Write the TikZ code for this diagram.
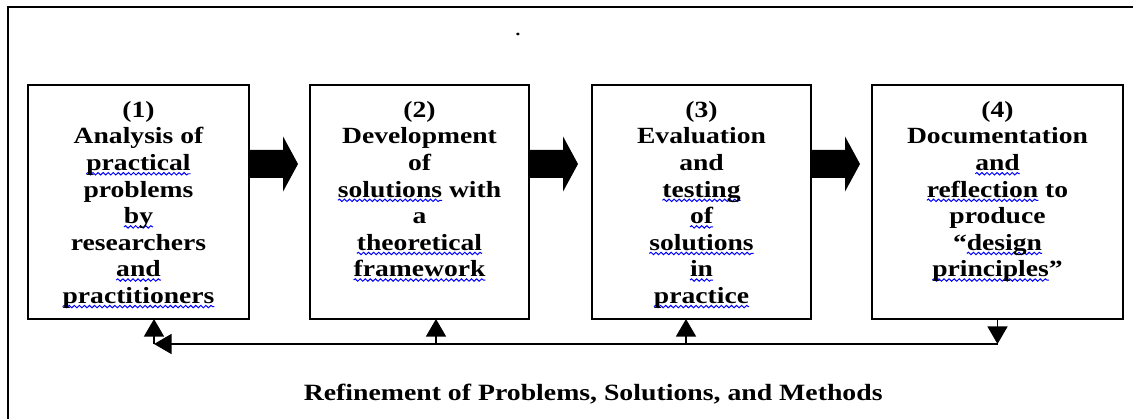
\documentclass[tikz,border=0pt]{standalone}
\usepackage{fontspec}
\setmainfont{Liberation Serif}[FakeStretch=1.19]
\usetikzlibrary{calc,arrows.meta,decorations.pathmorphing}

% spell-check wave under a word
\newlength{\spellw}
\newcommand{\spell}[1]{\settowidth{\spellw}{#1}\leavevmode\rlap{\tikz[overlay]\draw[blue, line width=0.7pt, decorate,
    decoration={snake, amplitude=0.85pt, segment length=3.6pt}] (0,-2.3pt) -- (\spellw,-2.3pt);}#1}

\newcommand{\bigarrow}[1]{%
  \fill ($(#1.east)+(0,1.30)$) -- ++(0.85,0) -- ++(0,0.34)
    -- ($(#1.east)+(1.225,0.95)$) -- ($(#1.east)+(0.85,0.26)$)
    -- ++(0,0.34) -- ($(#1.east)+(0,0.60)$) -- cycle;}

\begin{document}
\begin{tikzpicture}[
    stage/.style={draw, line width=1.2pt, inner sep=0pt, outer sep=0pt, minimum height=5.85cm},
    stagetext/.style={anchor=north, align=center, inner sep=0pt, font=\fontsize{16.5pt}{18.9pt}\selectfont\bfseries},
    fb/.style={line width=1.2pt, -{Triangle[width=0.5cm,length=0.44cm]}}
  ]
    \useasboundingbox (0,0) rectangle (28.325,10.475);

    % Frame
    \draw[line width=1.5pt] (0.19,0) -- (0.19,10.3) -- (28.325,10.3);
    \node[font=\fontsize{16.1pt}{18.9pt}\selectfont] (dot) at (12.95,9.62) {.};

    % Stages
    \node[stage, minimum width=5.525cm] (b1) at (3.4625,5.425) {};
    \node[stage, minimum width=5.475cm] (b2) at (10.4875,5.425) {};
    \node[stage, minimum width=5.475cm] (b3) at (17.5375,5.425) {};
    \node[stage, minimum width=6.275cm] (b4) at (24.9375,5.425) {};

    \node[stagetext] (t1) at ($(b1.north)+(0,-0.4)$)
      {(1)\\ Analysis of\\ \spell{practical}\\ problems\\ \spell{by}\\ researchers\\ \spell{and}\\ \spell{practitioners}};
    \node[stagetext] (t2) at ($(b2.north)+(0,-0.4)$)
      {(2)\\ Development\\ of\\ \spell{solutions} with\\ a\\ \spell{theoretical}\\ \spell{framework}};
    \node[stagetext] (t3) at ($(b3.north)+(0,-0.4)$)
      {(3)\\ Evaluation\\ and\\ \spell{testing}\\ \spell{of}\\ \spell{solutions}\\ \spell{in}\\ \spell{practice}};
    \node[stagetext] (t4) at ($(b4.north)+(0,-0.4)$)
      {(4)\\ Documentation\\ \spell{and}\\ \spell{reflection} to\\ produce\\ “\spell{design}\\ \spell{principles}”};

    % Block arrows
    \bigarrow{b1}
    \bigarrow{b2}
    \bigarrow{b3}

    % Refinement loop
    \coordinate (f1) at (3.85,1.875);
    \coordinate (f2) at (10.9,1.875);
    \coordinate (f3) at (17.15,1.875);
    \coordinate (f4) at (b4.south |- f1);
    \draw[fb] (b4.south) -- (f4);
    \draw[fb] (f4) -- (f1);
    \draw[fb] (f1) -- (f1 |- b1.south);
    \draw[fb] (f2) -- (f2 |- b2.south);
    \draw[fb] (f3) -- (f3 |- b3.south);

    \node[anchor=base, font=\fontsize{16.6pt}{18.9pt}\selectfont\bfseries] (cap) at (14.83,0.475)
      {Refinement of Problems, Solutions, and Methods};

\end{tikzpicture}
\end{document}
